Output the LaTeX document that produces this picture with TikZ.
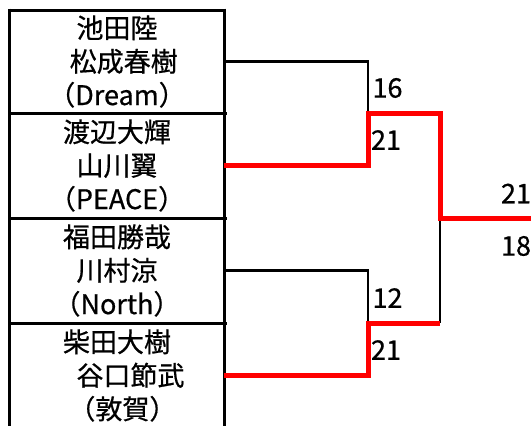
\documentclass[tikz,border=0pt]{standalone}
\usepackage{fontspec}
\setmainfont{Noto Sans CJK JP}[FakeBold=0.6]
\begin{document}
\begin{tikzpicture}[x=1pt,y=-1pt,
  cell/.style={minimum width=214pt,minimum height=105pt,inner sep=0pt,align=center,font=\fontsize{27}{33.5}\selectfont},
  score/.style={inner sep=0pt,font=\fontsize{27}{30}\selectfont},
  grid/.style={line width=3pt,black},
  lose/.style={line width=2.8pt,black},
  win/.style={line width=5pt,red,line join=miter}]
\useasboundingbox (0,0) rectangle (531,426);
\fill[white] (0,0) rectangle (531,426);
% grid
\draw[grid] (9.5,8.5) -- (9.5,430);
\draw[grid] (224,8.5) -- (224,430);
\draw[grid] (8,10) -- (225.5,10);
\draw[grid] (8,113) -- (227,113);
\draw[grid] (8,218) -- (227,218);
\draw[grid] (8,323) -- (227,323);
% cells
\node[cell] (c1) at (117,61.5) {池田陸\\\hspace{0.5em}松成春樹\\（Dream）};
\node[cell] (c2) at (117,165.5) {渡辺大輝\\山川翼\\（PEACE）};
\node[cell] (c3) at (117,270.5) {福田勝哉\\川村涼\\（North）};
\node[cell] (c4) at (117,375.5) {柴田大樹\\\hspace{1em}谷口節武\\\hspace{0.4em}（敦賀）};
% scores
\node[score] (s1) at (387.5,88) {16};
\node[score] (s2) at (386,140) {21};
\node[score] (s3) at (387.5,298) {12};
\node[score] (s4) at (386,350) {21};
\node[score] (f1) at (516,193.5) {21};
\node[score] (f2) at (516,246) {18};
% bracket coordinates
\coordinate (m1) at (368,113);
\coordinate (m2) at (368,323);
\coordinate (w1) at (440,218);
\coordinate (w2) at (440,323);
\coordinate (fin) at (533,218);
% connectors
\draw[lose] (c1.east) -| (m1);
\draw[lose] (c3.east) -| (m2);
\draw[lose] (w2) -- (w1);
\draw[win] (c2.east) -| (m1) -| (w1) -- (fin);
\draw[win] (c4.east) -| (m2) -- (w2);
\end{tikzpicture}
\end{document}
